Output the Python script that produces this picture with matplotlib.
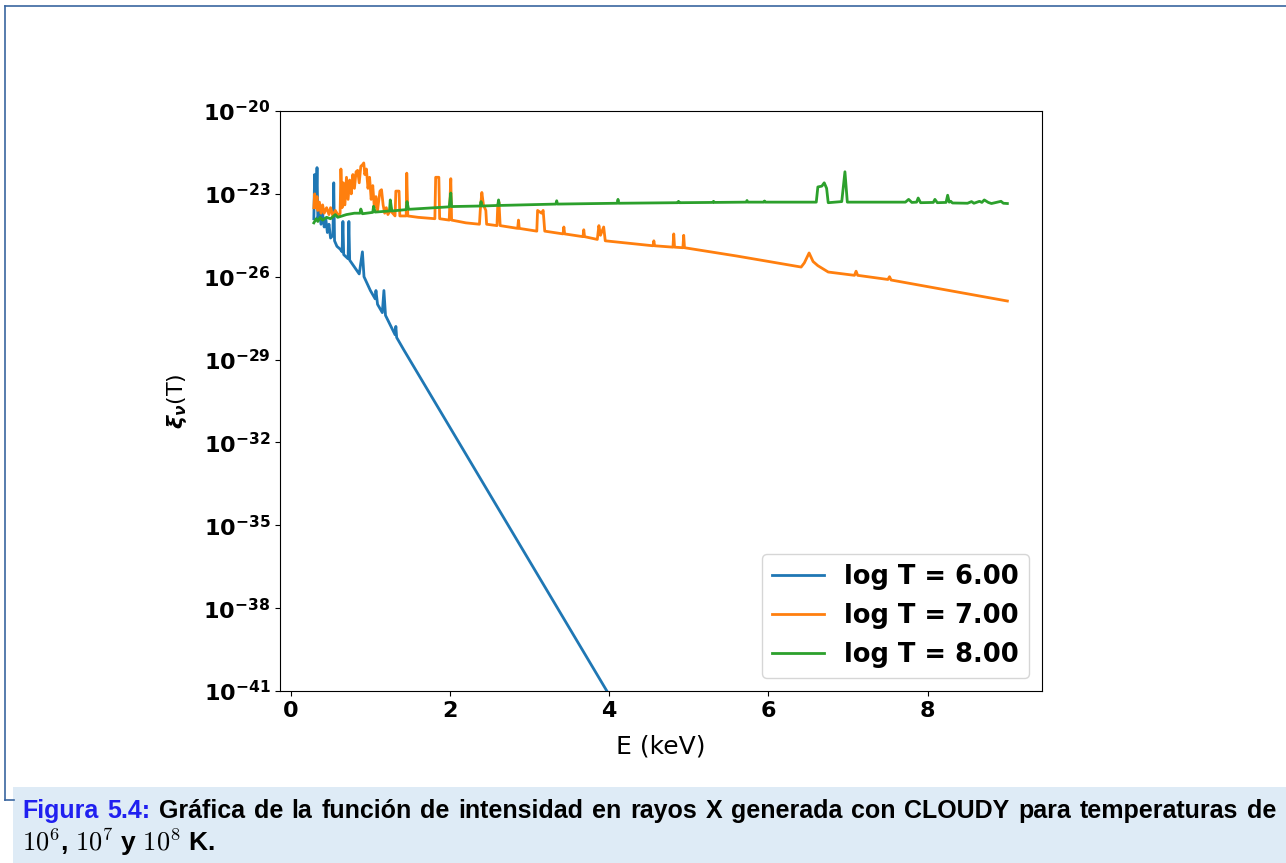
import matplotlib
matplotlib.use("Agg")
import matplotlib.pyplot as plt
from matplotlib.lines import Line2D
from matplotlib.patches import Rectangle
from matplotlib.ticker import NullLocator
import numpy as np

# --- data: (E [keV], log10 xi_nu) ---
spec_logT6 = [
    (0.29, -23.9), (0.30, -22.3), (0.305, -23.5), (0.32, -23.3), (0.33, -22.05),
    (0.34, -23.9), (0.36, -23.6), (0.38, -24.1), (0.40, -23.7), (0.42, -24.2),
    (0.44, -23.9), (0.46, -24.4), (0.48, -24.1), (0.50, -24.6), (0.53, -24.5),
    (0.54, -22.6), (0.55, -24.7), (0.58, -24.9), (0.62, -25.0), (0.645, -25.1),
    (0.655, -24.0), (0.665, -25.2), (0.72, -25.35), (0.73, -24.0), (0.74, -25.4),
    (0.86, -25.9), (0.90, -25.1), (0.92, -26.0), (1.00, -26.5), (1.06, -26.8),
    (1.07, -26.5), (1.09, -27.0), (1.15, -27.3), (1.17, -26.5), (1.19, -27.4),
    (1.31, -28.1), (1.32, -27.8), (1.33, -28.2), (1.42, -28.65), (3.97, -41.0),
    (9.00, -65.5),
]

spec_logT7 = [
    (0.29, -23.5), (0.30, -23.0), (0.31, -23.5), (0.33, -23.1), (0.34, -23.6),
    (0.36, -23.3), (0.38, -23.7), (0.40, -23.4), (0.42, -23.7), (0.45, -23.5),
    (0.48, -23.75), (0.50, -23.5), (0.53, -23.8), (0.56, -23.6), (0.60, -23.8),
    (0.62, -23.7), (0.63, -22.1), (0.645, -23.5), (0.66, -22.6), (0.68, -23.4),
    (0.70, -22.4), (0.72, -23.2), (0.74, -22.5), (0.76, -23.0), (0.78, -22.3),
    (0.80, -22.8), (0.82, -22.2), (0.84, -22.15), (0.86, -22.6), (0.88, -22.0),
    (0.90, -21.95), (0.917, -21.88), (0.93, -22.3), (0.95, -22.1), (0.97, -22.8),
    (0.99, -22.4), (1.01, -23.2), (1.03, -22.7), (1.05, -23.5), (1.07, -23.1),
    (1.09, -23.6), (1.12, -22.9), (1.14, -22.85), (1.16, -23.4), (1.18, -23.7),
    (1.20, -23.5), (1.22, -23.75), (1.25, -23.6), (1.31, -23.8), (1.32, -22.9),
    (1.36, -22.9), (1.37, -23.8), (1.45, -23.8), (1.457, -22.25), (1.47, -23.8),
    (1.60, -23.85), (1.81, -23.9), (1.82, -22.4), (1.86, -22.4), (1.87, -23.9),
    (1.99, -23.95), (2.01, -22.45), (2.02, -23.95), (2.20, -24.05), (2.37, -24.1),
    (2.38, -23.6), (2.40, -22.95), (2.42, -23.4), (2.45, -23.6), (2.46, -24.1),
    (2.59, -24.15), (2.60, -23.4), (2.615, -23.3), (2.63, -24.15), (2.85, -24.25),
    (2.86, -23.95), (2.87, -24.25), (3.09, -24.35), (3.10, -23.6), (3.15, -23.7),
    (3.17, -23.6), (3.19, -24.35), (3.42, -24.45), (3.43, -24.2), (3.44, -24.45),
    (3.67, -24.55), (3.68, -24.3), (3.69, -24.55), (3.85, -24.65), (3.87, -24.15),
    (3.89, -24.5), (3.93, -24.2), (3.95, -24.7), (4.55, -24.88), (4.56, -24.7),
    (4.57, -24.88), (4.80, -24.93), (4.81, -24.45), (4.82, -24.93), (4.925, -24.95),
    (4.935, -24.5), (4.945, -24.95), (5.60, -25.25), (6.41, -25.65), (6.45, -25.5),
    (6.51, -25.14), (6.56, -25.45), (6.62, -25.6), (6.75, -25.83), (7.08, -25.95),
    (7.10, -25.8), (7.12, -25.95), (7.50, -26.1), (7.52, -26.0), (7.54, -26.12),
    (9.00, -26.88),
]

spec_logT8 = [
    (0.29, -24.05), (0.32, -23.9), (0.34, -24.0), (0.37, -23.85), (0.40, -23.95),
    (0.45, -23.85), (0.50, -23.9), (0.56, -23.75), (0.59, -23.85), (0.70, -23.75),
    (0.80, -23.7), (0.87, -23.7), (0.88, -23.55), (0.90, -23.72), (1.03, -23.67),
    (1.04, -23.45), (1.06, -23.66), (1.24, -23.62), (1.25, -23.22), (1.27, -23.62),
    (1.45, -23.57), (1.46, -23.28), (1.48, -23.56), (1.99, -23.47), (2.01, -22.97),
    (2.02, -23.46), (2.38, -23.44), (2.39, -23.28), (2.40, -23.44), (2.60, -23.42),
    (2.61, -23.22), (2.62, -23.42), (3.33, -23.37), (3.34, -23.25), (3.35, -23.37),
    (4.10, -23.34), (4.11, -23.2), (4.12, -23.34), (4.86, -23.32), (4.87, -23.27),
    (4.88, -23.32), (5.30, -23.31), (5.31, -23.27), (5.32, -23.31), (5.72, -23.3),
    (5.73, -23.24), (5.74, -23.3), (5.94, -23.3), (5.95, -23.26), (5.96, -23.3),
    (6.60, -23.3), (6.62, -22.75), (6.67, -22.72), (6.70, -22.6), (6.73, -22.8),
    (6.75, -23.32), (6.92, -23.28), (6.96, -22.2), (6.99, -23.3), (7.72, -23.3),
    (7.76, -23.2), (7.80, -23.31), (7.86, -23.3), (7.88, -23.15), (7.91, -23.32),
    (8.07, -23.31), (8.09, -23.2), (8.12, -23.32), (8.23, -23.31), (8.25, -23.05),
    (8.27, -23.3), (8.29, -23.27), (8.31, -23.33), (8.50, -23.34), (8.55, -23.28),
    (8.58, -23.34), (8.65, -23.27), (8.68, -23.31), (8.71, -23.22), (8.76, -23.31),
    (8.80, -23.35), (8.92, -23.27), (8.95, -23.34), (9.00, -23.35),
]

series_labels = ["log T = 6.00", "log T = 7.00", "log T = 8.00"]
xticks = [0, 2, 4, 6, 8]
ytick_exponents = [-20, -23, -26, -29, -32, -35, -38, -41]

caption_head = ["Figura", "5.4:"]
caption_words = ("Gráfica de la función de intensidad en rayos X generada con "
                 "CLOUDY para temperaturas de").split()
caption_line2 = r"$10^6$, $10^7$ y $10^8$ K."

W, H = 1286, 863
plt.rcParams["font.weight"] = "bold"

fig = plt.figure(figsize=(W / 100, H / 100), dpi=100)

# page decorations: frame lines and caption box
frame_col = "#3a66a0"
fig.add_artist(Line2D([5 / W, 1], [1 - 6 / H, 1 - 6 / H], color=frame_col, lw=1.2,
                      transform=fig.transFigure))
fig.add_artist(Line2D([5 / W, 5 / W], [1 - 6 / H, 1 - 800 / H], color=frame_col, lw=1.2,
                      transform=fig.transFigure))
fig.add_artist(Line2D([5 / W, 14 / W], [1 - 800 / H, 1 - 800 / H], color=frame_col, lw=1.2,
                      transform=fig.transFigure))
fig.add_artist(Rectangle((13 / W, 0), 1 - 13 / W, 76 / H, transform=fig.transFigure,
                         facecolor="#deebf6", edgecolor="none"))

ax = fig.add_axes([280 / W, 1 - 691 / H, 762 / W, 580 / H])

for spec, lab, col in zip([spec_logT6, spec_logT7, spec_logT8], series_labels, ["C0", "C1", "C2"]):
    e, logxi = np.array(spec).T
    ax.semilogy(e, 10.0 ** logxi, color=col, lw=2, label=lab)

ax.set_xlim(-0.135, 9.435)
ax.set_ylim(1e-41, 1e-20)
ax.set_xticks(xticks)
ax.set_yticks([10.0 ** k for k in ytick_exponents])
ax.yaxis.set_minor_locator(NullLocator())
ax.tick_params(labelsize=16)

ax.set_xlabel("E (keV)", fontsize=18, fontweight="normal", labelpad=10)
ax.set_ylabel(r"$\boldsymbol{\xi_\nu}$(T)", fontsize=16, fontweight="normal", labelpad=10)

ax.legend(loc="lower right", fontsize=18.5)

# caption, first line justified between x=22 and x=1276 like the typeset page
cap_kw = dict(fontsize=18, family="Liberation Sans", fontweight="bold", va="baseline")
y1 = 1 - 818 / H
renderer = fig.canvas.get_renderer()
words = [fig.text(0, y1, w, color="#2020f0", **cap_kw) for w in caption_head]
words += [fig.text(0, y1, w, color="black", **cap_kw) for w in caption_words]
widths = [t.get_window_extent(renderer).width for t in words]
gap = (1276 - 22 - sum(widths)) / (len(words) - 1)
x = 22
for t, w in zip(words, widths):
    t.set_x(x / W)
    x += w + gap

fig.text(22 / W, 1 - 851 / H, caption_line2, color="black", fontsize=19,
         family="Liberation Sans", fontweight="bold", va="baseline", math_fontfamily="cm")

fig.savefig("out.png", dpi=100)
